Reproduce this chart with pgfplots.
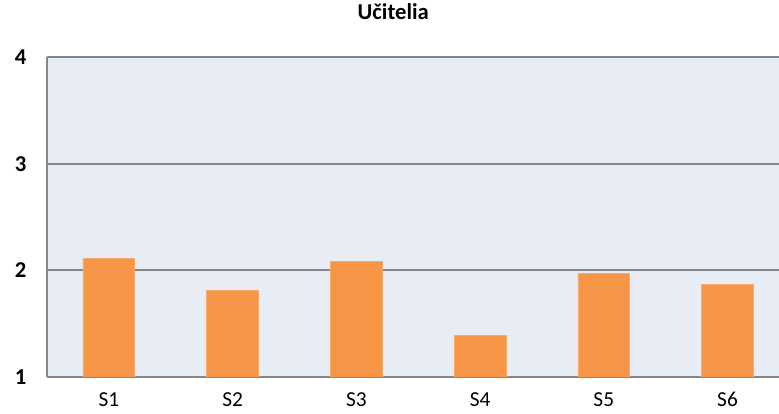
\documentclass[border=0pt]{standalone}
\usepackage{fontspec}
\setmainfont{Carlito}
\usepackage{pgfplots}
\pgfplotsset{compat=1.18}
\definecolor{barc}{HTML}{F79646}
\definecolor{bgc}{HTML}{E8ECF4}
\definecolor{gridc}{HTML}{878787}
\begin{document}
\begin{tikzpicture}
\useasboundingbox (0,0) rectangle (584.25pt,310.5pt);
\begin{axis}[
  at={(35.25pt,27.75pt)}, anchor=south west,
  scale only axis, width=549pt, height=240pt,
  xmin=-0.5, xmax=5.416, ymin=1, ymax=4,
  ytick={1,2,3,4},
  xtick={0,1,2,3,4,5},
  xticklabels={S1,S2,S3,S4,S5,S6},
  axis background/.style={fill=bgc},
  axis lines*=left,
  axis line style={draw=gridc, line width=1.3pt, -},
  ymajorgrids, major grid style={draw=gridc, line width=1.3pt},
  tick style={draw=none},
  /pgf/number format/assume math mode=true,
  yticklabel style={font=\fontsize{17}{20}\selectfont\bfseries, anchor=east, xshift=-12pt},
  xticklabel style={font=\fontsize{16}{18}\selectfont, anchor=north, yshift=-5pt, inner sep=2pt},
  title={Učitelia},
  title style={font=\fontsize{17}{20}\selectfont\bfseries, at={(axis description cs:0.473,1)}, anchor=center, yshift=27.75pt},
  ybar, bar width=38.8pt, bar shift=0pt,
  clip=true,
]
\addplot[fill=barc, draw=barc!80!white, line width=0.6pt] coordinates {
(0,2.11) (1,1.81) (2,2.08) (3,1.39) (4,1.97) (5,1.87)};
\end{axis}
\end{tikzpicture}
\end{document}
